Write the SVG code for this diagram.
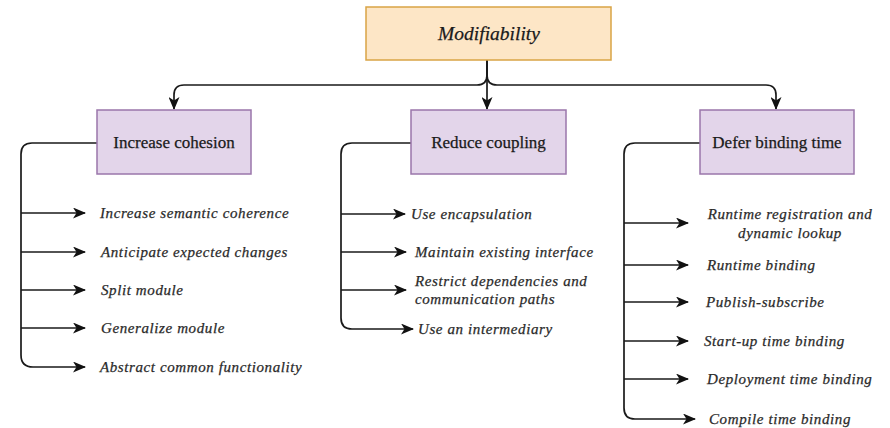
<svg xmlns="http://www.w3.org/2000/svg" width="890" height="428" viewBox="0 0 890 428">
  <defs>
    <marker id="arrow" viewBox="0 0 13 11" refX="12" refY="5.5" markerWidth="13" markerHeight="11" markerUnits="userSpaceOnUse" orient="auto">
      <path d="M0,0 L13,5.5 L0,11 L3.5,5.5 Z" fill="#111"/>
    </marker>
    <style>
      .root { fill: #fde6c6; stroke: #d9a445; stroke-width: 1.5; }
      .tactic { fill: #e3d5ea; stroke: #9a76ab; stroke-width: 1.5; }
      .title { font-family: "Liberation Serif", serif; font-style: italic; font-size: 19.5px; fill: #1a1a1a; text-anchor: middle; stroke: #1a1a1a; stroke-width: 0.25; }
      .head { font-family: "Liberation Serif", serif; font-size: 17px; fill: #1a1a1a; text-anchor: middle; stroke: #1a1a1a; stroke-width: 0.25; }
      .item { font-family: "Liberation Serif", serif; font-style: italic; font-size: 15px; fill: #2a2a2a; letter-spacing: 0.6px; stroke: #2a2a2a; stroke-width: 0.25; }
      .wire { fill: none; stroke: #1a1a1a; stroke-width: 1.7; }
      .arr { fill: none; stroke: #1a1a1a; stroke-width: 1.7; marker-end: url(#arrow); }
    </style>
  </defs>
  <rect width="890" height="428" fill="#ffffff"/>

  <g id="connectors">
    <!-- root to the three tactic groups -->
    <path class="arr" d="M487,60 V75 Q487,85 477,85 H184 Q174,85 174,95 V109"/>
    <path class="arr" d="M487,60 V109"/>
    <path class="arr" d="M487,60 V75 Q487,85 497,85 H766 Q776,85 776,95 V109"/>

    <!-- Increase cohesion branch -->
    <path class="wire" d="M97,143 H32 Q21,143 21,154 V355"/>
    <path class="arr" d="M21,213 H85"/>
    <path class="arr" d="M21,252 H85"/>
    <path class="arr" d="M21,290 H85"/>
    <path class="arr" d="M21,328 H85"/>
    <path class="arr" d="M21,355 Q21,367 33,367 H85"/>

    <!-- Reduce coupling branch -->
    <path class="wire" d="M411,143 H352 Q341,143 341,154 V318"/>
    <path class="arr" d="M341,214 H405"/>
    <path class="arr" d="M341,252 H406"/>
    <path class="arr" d="M341,290 H406"/>
    <path class="arr" d="M341,318 Q341,329 352,329 H413"/>

    <!-- Defer binding time branch -->
    <path class="wire" d="M700,143 H635 Q624,143 624,154 V408"/>
    <path class="arr" d="M624,223 H688"/>
    <path class="arr" d="M624,265 H688"/>
    <path class="arr" d="M624,302 H688"/>
    <path class="arr" d="M624,341 H688"/>
    <path class="arr" d="M624,379 H688"/>
    <path class="arr" d="M624,408 Q624,419 635,419 H695"/>
  </g>

  <g id="modifiability">
    <rect class="root" x="366" y="7" width="245" height="53"/>
    <text class="title" x="489" y="40">Modifiability</text>
  </g>

  <g id="increase-cohesion">
    <rect class="tactic" x="97" y="110" width="154" height="64"/>
    <text class="head" x="174" y="148">Increase cohesion</text>
  </g>

  <g id="reduce-coupling">
    <rect class="tactic" x="411" y="110" width="155" height="64"/>
    <text class="head" x="488.5" y="148">Reduce coupling</text>
  </g>

  <g id="defer-binding-time">
    <rect class="tactic" x="700" y="110" width="154" height="64"/>
    <text class="head" x="777" y="148">Defer binding time</text>
  </g>

  <g id="cohesion-items">
    <text class="item" x="100" y="218">Increase semantic coherence</text>
    <text class="item" x="101" y="257">Anticipate expected changes</text>
    <text class="item" x="101" y="295">Split module</text>
    <text class="item" x="101" y="333">Generalize module</text>
    <text class="item" x="100" y="372">Abstract common functionality</text>
  </g>

  <g id="coupling-items">
    <text class="item" x="411" y="219">Use encapsulation</text>
    <text class="item" x="415" y="257">Maintain existing interface</text>
    <text class="item" x="415" y="286">Restrict dependencies and</text>
    <text class="item" x="415" y="304">communication paths</text>
    <text class="item" x="418" y="334">Use an intermediary</text>
  </g>

  <g id="binding-items">
    <text class="item" x="790" y="219" text-anchor="middle">Runtime registration and</text>
    <text class="item" x="790" y="238" text-anchor="middle">dynamic lookup</text>
    <text class="item" x="707" y="270">Runtime binding</text>
    <text class="item" x="706" y="307">Publish-subscribe</text>
    <text class="item" x="704" y="346">Start-up time binding</text>
    <text class="item" x="707" y="384">Deployment time binding</text>
    <text class="item" x="709" y="424">Compile time binding</text>
  </g>
</svg>
